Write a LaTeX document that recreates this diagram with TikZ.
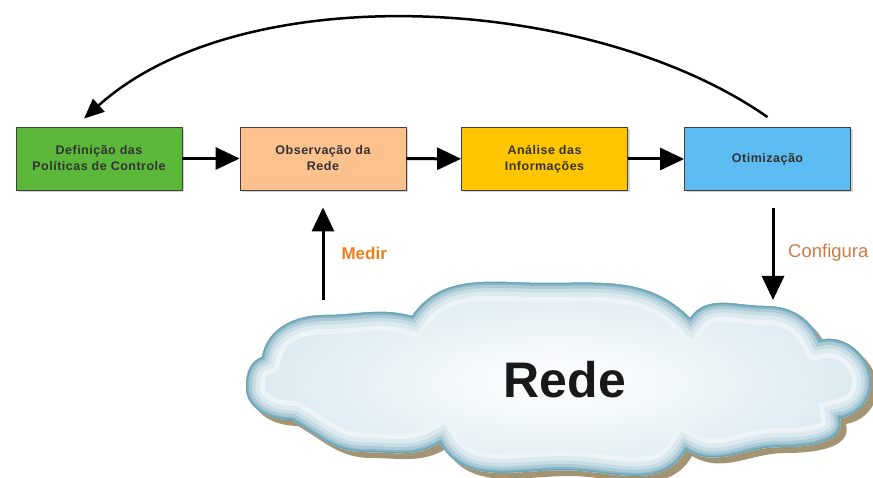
\documentclass[tikz,border=0pt]{standalone}
\usepackage{fontspec}
\setmainfont{Liberation Sans}
\usetikzlibrary{arrows.meta,shadows}

\definecolor{boxgreen}{HTML}{5CB83B}
\definecolor{boxorange}{HTML}{FCC18D}
\definecolor{boxyellow}{HTML}{FFC600}
\definecolor{boxblue}{HTML}{5CBCF1}
\definecolor{medirc}{HTML}{F07D17}
\definecolor{configc}{HTML}{CC7A45}
\definecolor{cloudrim}{HTML}{4F93AA}
\definecolor{cloudin}{HTML}{D9E9EF}
\definecolor{cloudshadow}{HTML}{A39473}

% outline of the cloud (pt units)
\newcommand\cloudpath{(262,-357) to[out=80,in=180] (325,-315) to[out=0,in=165] (412,-316)
  to[out=55,in=180] (545,-283) to[out=0,in=135] (690,-318)
  to[out=55,in=180] (765,-306) to[out=0,in=115] (820,-340)
  to[out=15,in=90] (871,-382) to[out=-90,in=10] (840,-418)
  to[out=-75,in=0] (780,-447) to[out=180,in=-30] (686,-450)
  to[out=-120,in=0] (563,-470) to[out=180,in=-60] (440,-443)
  to[out=-150,in=0] (365,-452) to[out=180,in=-30] (292,-420)
  to[out=180,in=-90] (246,-387) to[out=90,in=200] (262,-357) -- cycle}

\begin{document}
\begin{tikzpicture}
  [x=1pt,y=1pt,
   box/.style={draw=black!75,line width=0.8pt,minimum width=166pt,minimum height=63pt,
     align=center,font=\bfseries\fontsize{12.5}{16}\selectfont\addfontfeatures{LetterSpace=4},text=black!80,
     drop shadow={shadow xshift=2pt,shadow yshift=-2pt,opacity=.35}},
   arr/.style={line width=3pt,-{Triangle[length=24pt,width=22pt]}}]
  \useasboundingbox (0,0) rectangle (873,-478);

  % cloud
  \begin{scope}[shift={(6,-6)}]
    \fill[cloudshadow] \cloudpath;
  \end{scope}
  \shade[inner color=white,outer color=cloudin] \cloudpath;
  \begin{scope}
    \clip \cloudpath;
    \draw[cloudrim!10,line width=38pt] \cloudpath;
    \draw[cloudrim!20,line width=28pt] \cloudpath;
    \draw[cloudrim!32,line width=19pt] \cloudpath;
    \draw[cloudrim!48,line width=12pt] \cloudpath;
    \draw[cloudrim!68,line width=6pt] \cloudpath;
    \draw[cloudrim!85,line width=2.5pt] \cloudpath;
  \end{scope}
  \node[font=\bfseries\fontsize{50}{56}\selectfont,text=black!90] (rede) at (565,-380) {Rede};

  % boxes
  \node[box,fill=boxgreen] (def) at (99,-158.5) {Definição das\\Políticas de Controle};
  \node[box,fill=boxorange] (obs) at (323,-158.5) {Observação da\\Rede};
  \node[box,fill=boxyellow] (ana) at (544.5,-159) {Análise das\\Informações};
  \node[box,fill=boxblue] (otim) at (767.5,-159) {Otimização};

  \foreach \from/\to in {def/obs,obs/ana,ana/otim}
    \draw[arr] (\from) -- (\to);

  % feedback arc
  \draw[line width=2.5pt,-{Triangle[length=20pt,width=17pt]}]
    ([yshift=10pt]otim.north) to[out=145,in=42,looseness=0.8] ([xshift=-15pt,yshift=8pt]def.north);

  % measure / configure
  \coordinate (medirfoot) at (323,-300);
  \coordinate (configtip) at (773,-300);
  \draw[arr,shorten >=17pt] (medirfoot) -- (obs.south);
  \draw[arr,shorten <=17pt] (otim.south -| configtip) -- (configtip);
  \node[anchor=west,text=medirc,font=\bfseries\fontsize{17}{20}\selectfont] (medir) at (338,-253) {Medir};
  \node[anchor=west,text=configc,font=\fontsize{18.5}{22}\selectfont,inner sep=0pt] (config) at (788,-253) {Configura};
\end{tikzpicture}
\end{document}
